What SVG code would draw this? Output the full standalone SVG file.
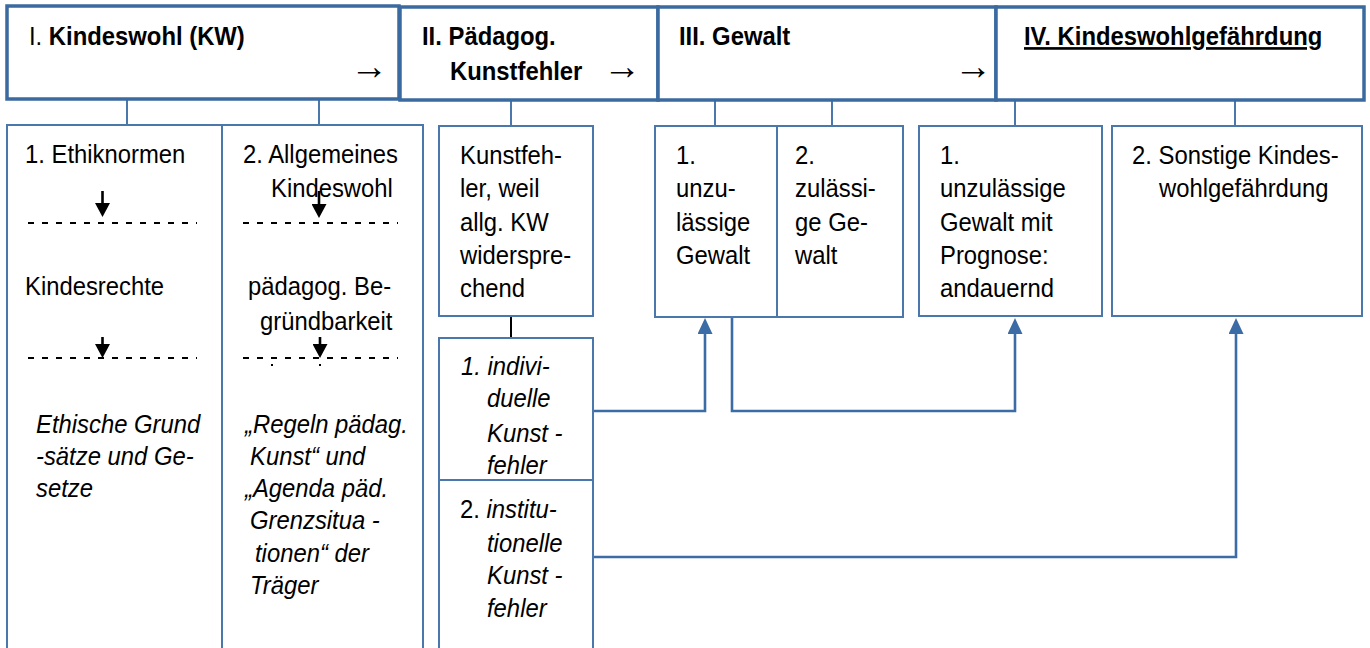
<svg xmlns="http://www.w3.org/2000/svg" width="1370" height="648" viewBox="0 0 1370 648">
<defs>
<style>
.hdr{fill:#fff;stroke:#3A6A9F;stroke-width:3.5}
.box{fill:#fff;stroke:#4A78AB;stroke-width:2}
.t{font-family:"Liberation Sans",Arial,sans-serif;font-size:26.5px;fill:#000}
.b{font-weight:bold}
.i{font-style:italic}
.n{font-style:normal}
.arr{font-family:"Liberation Serif","Times New Roman",serif;font-size:38px;fill:#000}
.con{stroke:#4A78AB;stroke-width:2;fill:none}
.flow{stroke:#3C6CA5;stroke-width:2.6;fill:none;marker-end:url(#bh)}
.blk{stroke:#000;stroke-width:2;fill:none}
.dash{stroke:#000;stroke-width:2;stroke-dasharray:6 8;fill:none}
.down{stroke:#000;stroke-width:2.6;fill:none;marker-end:url(#kh)}
</style>
<marker id="bh" markerUnits="userSpaceOnUse" markerWidth="16" markerHeight="15" refX="0" refY="7.5" orient="auto" viewBox="0 0 16 15"><path d="M0,0L16,7.5L0,15z" fill="#3C6CA5"/></marker>
<marker id="kh" markerUnits="userSpaceOnUse" markerWidth="14" markerHeight="15" refX="0" refY="7.5" orient="auto" viewBox="0 0 14 15"><path d="M0,0L14,7.5L0,15z" fill="#000"/></marker>
</defs>
<rect width="1370" height="648" fill="#fff"/>

<g id="connectors">
<path class="con" d="M127,99V125M319,99V125M511,100V126M715,100V126M832,100V126M1015,100V126M1235,100V126"/>
<path class="blk" d="M511,316V338"/>
<path class="flow" d="M593,411H705V334"/>
<path class="flow" d="M732,317V411H1015V334"/>
<path class="flow" d="M593,557H1236V334"/>
</g>

<g id="h1">
<rect class="hdr" x="7" y="6" width="392" height="93"/>
<text class="t" transform="translate(29,45) scale(0.9,1)">I. <tspan class="b">Kindeswohl (KW)</tspan></text>
<text class="arr" x="350" y="79">→</text>
</g>
<g id="h2">
<rect class="hdr" x="400" y="7" width="258" height="93"/>
<text class="t b" transform="translate(422,45) scale(0.9,1)">II. Pädagog.</text>
<text class="t b" transform="translate(450,80) scale(0.9,1)">Kunstfehler</text>
<text class="arr" x="603" y="79">→</text>
</g>
<g id="h3">
<rect class="hdr" x="658" y="7" width="338" height="93"/>
<text class="t b" transform="translate(679,45) scale(0.9,1)">III. Gewalt</text>
<text class="arr" x="954" y="79">→</text>
</g>
<g id="h4">
<rect class="hdr" x="996" y="7" width="368" height="93"/>
<text class="t b" text-decoration="underline" transform="translate(1024,45) scale(0.9,1)">IV. Kindeswohlgefährdung</text>
</g>

<g id="n1a">
<rect class="box" x="7" y="125" width="215" height="540"/>
<text class="t" transform="translate(25,163) scale(0.9,1)">1. Ethiknormen</text>
<path class="down" d="M102.5,191V203"/>
<path class="dash" d="M28,223H197"/>
<text class="t" transform="translate(25,295) scale(0.9,1)">Kindesrechte</text>
<path class="down" d="M102.5,337V344"/>
<path class="dash" d="M28,358H197"/>
<text class="t i" transform="translate(36,433) scale(0.9,1)">Ethische Grund</text>
<text class="t i" transform="translate(36,465) scale(0.9,1)">-sätze und Ge-</text>
<text class="t i" transform="translate(36,497) scale(0.9,1)">setze</text>
</g>

<g id="n1b">
<rect class="box" x="222" y="125" width="201" height="540"/>
<text class="t" transform="translate(243,163) scale(0.9,1)">2. Allgemeines</text>
<text class="t" transform="translate(271,197) scale(0.9,1)">Kindeswohl</text>
<path class="down" d="M319,191V204"/>
<path class="dash" d="M243,223H398"/>
<text class="t" transform="translate(248,295) scale(0.9,1)">pädagog. Be-</text>
<text class="t" transform="translate(260,330) scale(0.9,1)">gründbarkeit</text>
<path class="down" d="M320,337V344"/>
<path class="dash" d="M243,358H398"/>
<rect x="271" y="364" width="2" height="2" fill="#000"/>
<rect x="319" y="364" width="2" height="2" fill="#000"/>
<text class="t i" transform="translate(245,433) scale(0.9,1)">„Regeln pädag.</text>
<text class="t i" transform="translate(250,465) scale(0.9,1)">Kunst“ und</text>
<text class="t i" transform="translate(245,497) scale(0.9,1)">„Agenda päd.</text>
<text class="t i" transform="translate(250,529) scale(0.9,1)">Grenzsitua -</text>
<text class="t i" transform="translate(255,562) scale(0.9,1)">tionen“ der</text>
<text class="t i" transform="translate(250,594) scale(0.9,1)">Träger</text>
</g>

<g id="n2">
<rect class="box" x="439" y="126" width="154" height="190"/>
<text class="t" transform="translate(460,164) scale(0.9,1)">Kunstfeh-</text>
<text class="t" transform="translate(460,197) scale(0.9,1)">ler, weil</text>
<text class="t" transform="translate(460,231) scale(0.9,1)">allg. KW</text>
<text class="t" transform="translate(460,264) scale(0.9,1)">widerspre-</text>
<text class="t" transform="translate(460,297) scale(0.9,1)">chend</text>
</g>

<g id="n2a">
<rect class="box" x="439" y="338" width="154" height="142"/>
<text class="t i" transform="translate(461,375) scale(0.9,1)">1. indivi-</text>
<text class="t i" transform="translate(487,407) scale(0.9,1)">duelle</text>
<text class="t i" transform="translate(487,442) scale(0.9,1)">Kunst -</text>
<text class="t i" transform="translate(487,474) scale(0.9,1)">fehler</text>
</g>

<g id="n2b">
<rect class="box" x="439" y="480" width="154" height="185"/>
<text class="t i" transform="translate(460,518) scale(0.9,1)"><tspan class="n">2.</tspan> institu-</text>
<text class="t i" transform="translate(487,552) scale(0.9,1)">tionelle</text>
<text class="t i" transform="translate(487,584) scale(0.9,1)">Kunst -</text>
<text class="t i" transform="translate(487,617) scale(0.9,1)">fehler</text>
</g>

<g id="n3a">
<rect class="box" x="655" y="126" width="122" height="191"/>
<text class="t" transform="translate(676,164) scale(0.9,1)">1.</text>
<text class="t" transform="translate(676,197) scale(0.9,1)">unzu-</text>
<text class="t" transform="translate(676,231) scale(0.9,1)">lässige</text>
<text class="t" transform="translate(676,264) scale(0.9,1)">Gewalt</text>
</g>

<g id="n3b">
<rect class="box" x="777" y="126" width="126" height="191"/>
<text class="t" transform="translate(795,164) scale(0.9,1)">2.</text>
<text class="t" transform="translate(795,197) scale(0.9,1)">zulässi-</text>
<text class="t" transform="translate(795,231) scale(0.9,1)">ge Ge-</text>
<text class="t" transform="translate(795,264) scale(0.9,1)">walt</text>
</g>

<g id="n4a">
<rect class="box" x="919" y="126" width="183" height="190"/>
<text class="t" transform="translate(940,164) scale(0.9,1)">1.</text>
<text class="t" transform="translate(940,197) scale(0.9,1)">unzulässige</text>
<text class="t" transform="translate(940,231) scale(0.9,1)">Gewalt mit</text>
<text class="t" transform="translate(940,264) scale(0.9,1)">Prognose:</text>
<text class="t" transform="translate(940,297) scale(0.9,1)">andauernd</text>
</g>

<g id="n4b">
<rect class="box" x="1112" y="126" width="250" height="190"/>
<text class="t" transform="translate(1132,164) scale(0.9,1)">2. Sonstige Kindes-</text>
<text class="t" transform="translate(1159,197) scale(0.9,1)">wohlgefährdung</text>
</g>
</svg>
